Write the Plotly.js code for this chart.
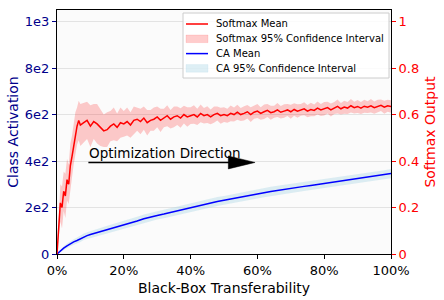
<!DOCTYPE html>
<html>
<head>
<meta charset="utf-8">
<script src="https://cdn.plot.ly/plotly-3.0.1.min.js"></script>
<style>html,body{margin:0;padding:0;background:#fff;}#chart{width:444px;height:300px;}</style>
</head>
<body>
<div id="chart"></div>
<script>
// ---- data ----
const softmaxX = [0,0.5,1,1.5,2,2.5,3,3.5,4,4.5,5,5.5,6,6.5,7,
  8,9,10,11,12,13,14,15,16,17,18,19,20,21,22,23,24,25,26,27,28,29,30,
  31,32,33,34,35,36,37,38,39,40,41,42,43,44,45,46,47,48,49,50,
  51,52,53,54,55,56,57,58,59,60,61,62,63,64,65,66,67,68,69,70,
  71,72,73,74,75,76,77,78,79,80,81,82,83,84,85,86,87,88,89,90,
  91,92,93,94,95,96,97,98,99,100];
const softmaxMean = [0,0.12,0.22,0.2,0.27,0.25,0.32,0.3,0.38,0.42,0.47,0.52,0.55,0.575,0.555,
  0.565,0.575,0.55,0.57,0.56,0.545,0.53,0.535,0.55,0.56,0.545,0.565,0.56,0.57,0.555,0.575,0.58,0.57,0.585,0.565,0.575,0.58,0.59,
  0.575,0.585,0.595,0.58,0.59,0.595,0.585,0.6,0.59,0.595,0.6,0.59,0.605,0.595,0.6,0.59,0.6,0.605,0.595,0.6,
  0.595,0.605,0.6,0.61,0.6,0.605,0.612,0.6,0.61,0.615,0.605,0.612,0.618,0.608,0.612,0.62,0.61,0.615,0.62,0.612,
  0.622,0.615,0.62,0.625,0.615,0.622,0.618,0.628,0.62,0.625,0.63,0.62,0.628,0.635,0.625,0.632,0.628,0.638,0.63,0.635,
  0.628,0.636,0.632,0.638,0.63,0.636,0.64,0.632,0.638,0.635];
const softmaxCI = [0,0.05,0.08,0.09,0.085,0.095,0.09,0.085,0.095,0.09,0.085,0.09,0.08,0.085,0.09,
  0.085,0.08,0.09,0.075,0.085,0.08,0.07,0.075,0.065,0.07,0.06,0.065,0.055,0.06,0.055,0.06,0.05,0.055,0.05,0.055,0.045,0.05,0.045,
  0.05,0.04,0.045,0.04,0.045,0.04,0.042,0.038,0.042,0.036,0.04,0.035,0.038,0.033,0.036,0.032,0.035,0.03,0.034,0.032,
  0.03,0.034,0.03,0.032,0.028,0.031,0.029,0.032,0.028,0.03,0.027,0.031,0.028,0.03,0.026,0.03,0.027,0.029,0.026,0.03,
  0.027,0.029,0.025,0.028,0.026,0.029,0.025,0.028,0.026,0.029,0.025,0.028,0.026,0.03,0.025,0.028,0.026,0.029,0.025,0.028,
  0.026,0.028,0.025,0.029,0.026,0.028,0.025,0.028,0.026,0.027];

const caX = [0,1,2,3,4,5,6,7,8,9,10,12,14,16,18,20,22,24,26,28,30,32,34,36,38,40,42,44,46,48,50,
  52,54,56,58,60,62,64,66,68,70,72,74,76,78,80,82,84,86,88,90,92,94,96,98,100];
const caMean = [0,14,25,35,44,52,58,66,74,79,84,92,100,109,117,125,134,142,152,160,166,172,179,186,193,199,206,213,220,226,231,
  237,243,249,254,259,264,269,274,278,282,287,291,295,299,303,307,311,315,320,324,328,332,336,340,346];
const caCI = [0,5,8,10,11,12,13,14,14,15,15,16,16,17,17,17,17,18,18,18,18,18,18,19,19,19,19,19,19,19,19,
  19,19,19,20,20,20,20,20,20,20,20,20,20,20,20,20,20,20,20,20,20,20,20,20,20];

const leftTickVals = [0,200,400,600,800,1000];
const leftTickText = ['0','2e2','4e2','6e2','8e2','1e3'];
const rightTickVals = [0,0.2,0.4,0.6,0.8,1];
const rightTickText = ['0','0.2','0.4','0.6','0.8','1'];
const xTickVals = [0,20,40,60,80,100];
const xTickText = ['0%','20%','40%','60%','80%','100%'];

const legendNames = ['Softmax Mean','Softmax 95% Confidence Interval','CA Mean','CA 95% Confidence Interval'];
const legendKinds = ['line','patch','line','patch'];
const legendColors = ['#ff0000','rgba(255,0,0,0.2)','#0000ff','rgba(173,216,230,0.4)'];

const arrowText = 'Optimization Direction';
const arrowX0 = 9.4, arrowX1 = 59.3, arrowY = 0.394;

// ---- build ----
const caLow = caMean.map((v,i)=>v-caCI[i]);
const caHigh = caMean.map((v,i)=>v+caCI[i]);
const smLow = softmaxMean.map((v,i)=>v-softmaxCI[i]);
const smHigh = softmaxMean.map((v,i)=>v+softmaxCI[i]);

const traces = [
  {x:caX, y:caLow, type:'scatter', mode:'lines', line:{width:0, color:'rgba(173,216,230,0)'}, showlegend:false, hoverinfo:'skip', yaxis:'y'},
  {x:caX, y:caHigh, type:'scatter', mode:'lines', fill:'tonexty', fillcolor:legendColors[3], line:{width:0, color:'rgba(173,216,230,0)'}, name:legendNames[3], yaxis:'y'},
  {x:caX, y:caMean, type:'scatter', mode:'lines', line:{width:1.5, color:legendColors[2]}, name:legendNames[2], yaxis:'y'},
  {x:softmaxX, y:smLow, type:'scatter', mode:'lines', line:{width:0, color:'rgba(255,0,0,0)'}, showlegend:false, hoverinfo:'skip', yaxis:'y2'},
  {x:softmaxX, y:smHigh, type:'scatter', mode:'lines', fill:'tonexty', fillcolor:legendColors[1], line:{width:0, color:'rgba(255,0,0,0)'}, name:legendNames[1], yaxis:'y2'},
  {x:softmaxX, y:softmaxMean, type:'scatter', mode:'lines', line:{width:1.5, color:legendColors[0]}, name:legendNames[0], yaxis:'y2'}
];

// plot-area pixel geometry (for the hand-built legend box)
const M = {l:57, r:53, t:10, b:46};
const W = 444, H = 300;
const pw = W - M.l - M.r, ph = H - M.t - M.b;
const px = v => (v - M.l) / pw;
const py = v => (H - M.b - v) / ph;

const shapes = [
  {type:'line', xref:'x', yref:'y2', x0:arrowX0, x1:arrowX1 - 8.0 + 0.5, y0:arrowY, y1:arrowY, line:{color:'#000', width:1.5}},
  {type:'path', xref:'x', yref:'y2',
   path:`M ${arrowX1-8.0},${arrowY+0.0278} L ${arrowX1},${arrowY} L ${arrowX1-8.0},${arrowY-0.0278} Z`,
   fillcolor:'#000', line:{color:'#000', width:0.5}},
  {type:'rect', xref:'paper', yref:'paper', x0:px(183), x1:px(389), y0:py(78), y1:py(13),
   fillcolor:'rgba(255,255,255,0.85)', line:{color:'#cccccc', width:1}}
];
const annotations = [
  {text:arrowText, xref:'x', yref:'y2', x:arrowX0, y:arrowY, xanchor:'left', yanchor:'bottom', showarrow:false,
   font:{family:'DejaVu Sans', size:13.5, color:'#000'}, borderpad:0}
];
const rowY0 = 24, rowStep = 14.8;
legendNames.forEach((name, i) => {
  const cy = rowY0 + i*rowStep;
  if (legendKinds[i] === 'line') {
    shapes.push({type:'line', xref:'paper', yref:'paper', x0:px(186), x1:px(208), y0:py(cy), y1:py(cy),
                 line:{color:legendColors[i], width:1.5}});
  } else {
    shapes.push({type:'rect', xref:'paper', yref:'paper', x0:px(186), x1:px(208), y0:py(cy+3.8), y1:py(cy-3.8),
                 fillcolor:legendColors[i], line:{color:legendColors[i], width:0.5}});
  }
  annotations.push({text:name, xref:'paper', yref:'paper', x:px(214.5), y:py(cy), xanchor:'left', yanchor:'middle',
                    showarrow:false, borderpad:0, font:{family:'DejaVu Sans', size:10, color:'#000'}});
});

const layout = {
  width:W, height:H,
  margin:M,
  paper_bgcolor:'#ffffff', plot_bgcolor:'#fbfbfb',
  font:{family:'DejaVu Sans', size:13, color:'#000'},
  showlegend:false,
  xaxis:{range:[0,100], tickvals:xTickVals, ticktext:xTickText, showgrid:false, zeroline:false,
         showline:true, linecolor:'#000', linewidth:1, mirror:true, ticks:'outside', ticklen:4, tickcolor:'#000',
         tickfont:{size:13, color:'#000'},
         title:{text:'Black-Box Transferability', font:{size:14, color:'#000'}, standoff:6}},
  yaxis:{range:[0,1050], tickvals:leftTickVals, ticktext:leftTickText, showgrid:true, gridcolor:'#e3e3e3', gridwidth:1,
         zeroline:false, showline:true, linecolor:'#000', linewidth:1, ticks:'outside', ticklen:4, tickcolor:'#00008b',
         tickfont:{size:13, color:'#00008b'},
         title:{text:'Class Activation', font:{size:14, color:'#00008b'}, standoff:2}},
  yaxis2:{range:[0,1.05], overlaying:'y', side:'right', tickvals:rightTickVals, ticktext:rightTickText, showgrid:false,
          zeroline:false, showline:true, linecolor:'#000', linewidth:1, ticks:'outside', ticklen:4, tickcolor:'#ff0000',
          tickfont:{size:13, color:'#ff0000'},
          title:{text:'Softmax Output', font:{size:14, color:'#ff0000'}, standoff:6}},
  shapes:shapes,
  annotations:annotations
};

Plotly.newPlot('chart', traces, layout, {displayModeBar:false, staticPlot:true});
</script>
</body>
</html>
